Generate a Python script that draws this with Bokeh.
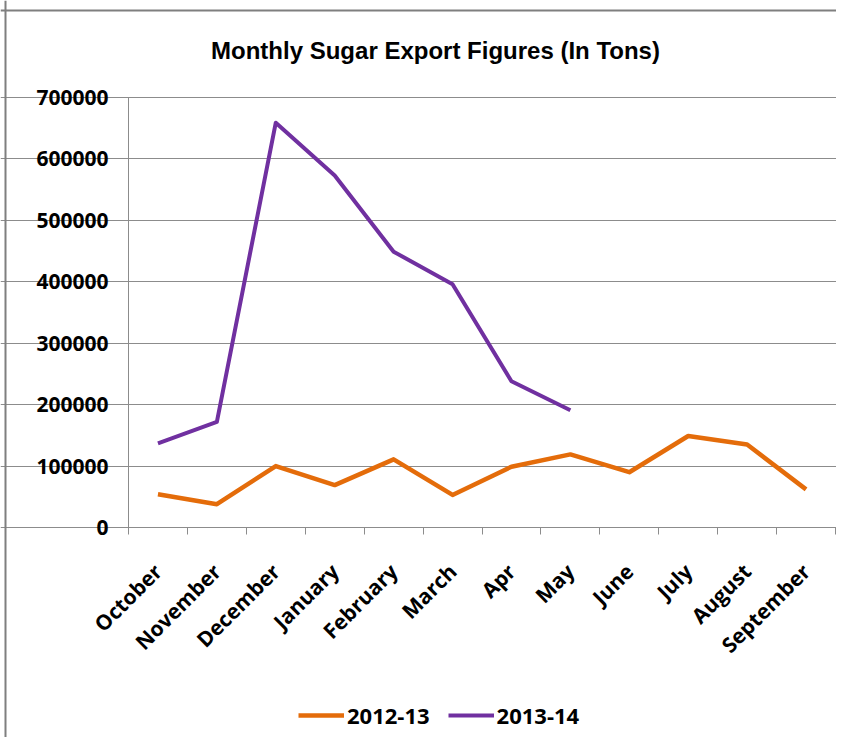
import math
from bokeh.plotting import figure
from bokeh.models import (FixedTicker, Legend, LegendItem, ColumnDataSource,
                          Label, Span)
from bokeh.embed import file_html
from bokeh.resources import INLINE

months = ["October", "November", "December", "January", "February", "March",
          "Apr", "May", "June", "July", "August", "September"]
exports_2012_13 = [54000, 38000, 100000, 69000, 111000, 53000,
                   99000, 119000, 90000, 149000, 135000, 62000]
exports_2013_14 = [137000, 172000, 659000, 573000, 449000, 396000,
                   238000, 191000]
y_ticks = [0, 100000, 200000, 300000, 400000, 500000, 600000, 700000]
title_text = "Monthly Sugar Export Figures (In Tons)"
series_names = ["2012-13", "2013-14"]

ORANGE = "#E46C0A"
PURPLE = "#7030A0"
GRAY = "#8c8c8c"
FONT = "Open Sans"

W, H = 836, 737
# frame covers the whole canvas; plot area (canvas px): x 128..835, y 97..527
LEFT, RIGHT, TOP, BOTTOM = 128, 835, 97, 527
PX_X = (RIGHT - LEFT) / len(months)        # px per category
PX_Y = (BOTTOM - TOP) / 700000             # px per ton
x_lo = -LEFT / PX_X
x_hi = len(months) + (W - RIGHT) / PX_X
y_hi = 700000 + TOP / PX_Y
y_lo = -(H - BOTTOM) / PX_Y

x_pos = [i + 0.5 for i in range(len(months))]

p = figure(width=W, height=H, output_backend="svg", toolbar_location=None,
           x_range=(x_lo, x_hi), y_range=(y_lo, y_hi),
           min_border_left=0, min_border_right=0, min_border_top=0,
           min_border_bottom=0)
p.outline_line_color = None
p.background_fill_color = "white"

src1 = ColumnDataSource(dict(x=x_pos[:len(exports_2012_13)], y=exports_2012_13))
src2 = ColumnDataSource(dict(x=x_pos[:len(exports_2013_14)], y=exports_2013_14))
r1 = p.line("x", "y", source=src1, line_color=ORANGE, line_width=4.5, line_join="round")
r2 = p.line("x", "y", source=src2, line_color=PURPLE, line_width=4, line_join="round")

# x axis
xa = p.xaxis[0]
xa.fixed_location = 0
xa.bounds = (0, len(months))
xa.ticker = FixedTicker(ticks=x_pos, minor_ticks=list(range(len(months) + 1)))
xa.major_label_overrides = {x: m for x, m in zip(x_pos, months)}
xa.major_tick_line_color = None
xa.major_tick_out = 0
xa.major_tick_in = 0
xa.minor_tick_out = 7
xa.minor_tick_in = 0
xa.minor_tick_line_color = GRAY
xa.axis_line_color = GRAY
xa.major_label_orientation = math.pi / 4
xa.major_label_standoff = 33
xa.major_label_text_font = FONT
xa.major_label_text_font_style = "bold"
xa.major_label_text_font_size = "21px"
xa.major_label_text_color = "black"

# y axis
ya = p.yaxis[0]
ya.fixed_location = 0
ya.bounds = (0, 700000)
ya.ticker = FixedTicker(ticks=y_ticks)
ya.major_label_overrides = {t: str(t) for t in y_ticks}
ya.axis_line_color = GRAY
ya.major_tick_line_color = GRAY
ya.major_tick_out = 6
ya.major_tick_in = 0
ya.minor_tick_line_color = None
ya.major_label_standoff = 14
ya.major_label_text_font = FONT
ya.major_label_text_font_style = "bold"
ya.major_label_text_font_size = "21px"
ya.major_label_text_color = "black"

p.xgrid.grid_line_color = None
p.ygrid.grid_line_color = GRAY
p.ygrid.grid_line_width = 1
p.ygrid.bounds = (0, len(months))

# outer chart border (left and top)
p.add_layout(Span(location=5, location_units="screen", dimension="height",
                  line_color="#7f7f7f", line_width=2))
p.add_layout(Span(location=H - 10, location_units="screen", dimension="width",
                  line_color="#7f7f7f", line_width=2))

# title
p.add_layout(Label(x=435, y=H - 50, x_units="screen", y_units="screen",
                   text=title_text, text_align="center", text_baseline="middle",
                   text_font="Liberation Sans", text_font_style="bold",
                   text_font_size="24px", text_color="black"))

legend = Legend(items=[LegendItem(label=series_names[0], renderers=[r1]),
                       LegendItem(label=series_names[1], renderers=[r2])],
                orientation="horizontal", location=(298, 7),
                border_line_color=None, background_fill_alpha=0,
                label_text_font=FONT, label_text_font_style="bold",
                label_text_font_size="22px", label_text_color="black",
                glyph_width=46, glyph_height=20,
                label_standoff=3, spacing=18, padding=0, margin=0)
p.add_layout(legend, "center")

open("out.html", "w").write(file_html(p, INLINE))
